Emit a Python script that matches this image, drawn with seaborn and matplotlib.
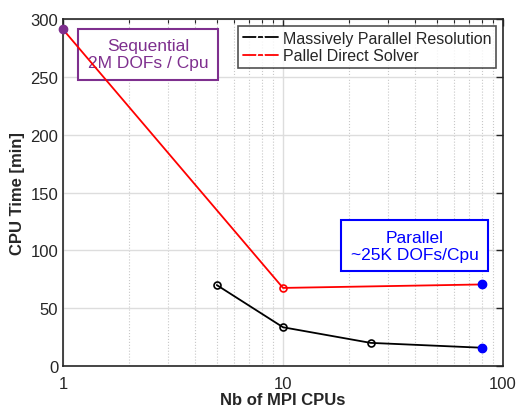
import matplotlib
matplotlib.use("Agg")
from matplotlib import pyplot as plt
import numpy as np
import pandas as pd
import seaborn as sns

# values
mpr_cpus = [5, 10, 25, 80]
mpr_time = [70, 33.5, 20, 15.8]
pds_cpus = [1, 10, 80]
pds_time = [291, 67.5, 70.5]

seq_point = (1, 291)
par_points_x = [80, 80]
par_points_y = [70.5, 15.8]

sns.set_theme(style="white")
plt.rcParams['font.family'] = ['Liberation Sans', 'DejaVu Sans']

df = pd.concat([
    pd.DataFrame({'cpus': mpr_cpus, 'time': mpr_time, 'series': 'Massively Parallel Resolution'}),
    pd.DataFrame({'cpus': pds_cpus, 'time': pds_time, 'series': 'Pallel Direct Solver'}),
])

fig = plt.figure(figsize=(5.16, 4.10), dpi=100)
ax = fig.add_axes([63/516, 1 - 367/410, 440/516, 347/410])

sns.lineplot(data=df, x='cpus', y='time', hue='series',
             palette={'Massively Parallel Resolution': 'black', 'Pallel Direct Solver': 'red'},
             marker='o', markersize=5, markerfacecolor='none', markeredgewidth=1.2,
             linewidth=1.3, ax=ax, sort=False, zorder=3)
for line, col in zip(ax.get_lines()[:2], ['black', 'red']):
    line.set_markeredgecolor(col)

ax.plot(*seq_point, 'o', color='#7E2F8E', markersize=6, zorder=5, clip_on=False)
ax.plot(par_points_x, par_points_y, 'o', color='blue', markersize=6, linestyle='none', zorder=5)

ax.set_xscale('log')
ax.set_xlim(1, 100)
ax.set_ylim(0, 300)
ax.set_yticks([0, 50, 100, 150, 200, 250, 300])
ax.set_xticks([1, 10, 100])
ax.set_xticklabels(['1', '10', '100'])

ax.grid(True, which='major', color='#dddddd', linewidth=1.0, linestyle='-')
ax.grid(True, which='minor', axis='x', color='#c8c8c8', linewidth=0.8, linestyle=':')
ax.set_axisbelow(True)

for s in ax.spines.values():
    s.set_color('#262626')
    s.set_linewidth(1.2)
ax.tick_params(which='both', direction='in', top=True, right=True, colors='#262626',
               labelsize=12, labelcolor='#262626')
ax.tick_params(which='major', length=5, width=1.0)
ax.tick_params(which='minor', length=3, width=0.8)
ax.tick_params(axis='x', pad=7)

ax.set_xlabel('Nb of MPI CPUs', fontsize=12, fontweight='bold', color='#262626', labelpad=1)
ax.set_ylabel('CPU Time [min]', fontsize=12, fontweight='bold', color='#262626', labelpad=4)

leg = ax.legend(loc='upper right', fontsize=11.5, frameon=True, fancybox=False,
                borderpad=0.3, handlelength=2.2, handletextpad=0.3, labelspacing=0.15,
                borderaxespad=0.45)
leg.get_frame().set_edgecolor('#262626')
leg.get_frame().set_linewidth(1.2)
leg.set_zorder(6)

ax.text(2.43, 269.5, 'Sequential\n2M DOFs / Cpu', color='#7E2F8E', fontsize=12.5,
        ha='center', va='center', linespacing=1.15, zorder=2,
        bbox=dict(boxstyle='square,pad=0.55', fc='white', ec='#7E2F8E', lw=1.5))
ax.text(39.8, 104, 'Parallel\n~25K DOFs/Cpu', color='blue', fontsize=12.5,
        ha='center', va='center', linespacing=1.15, zorder=2,
        bbox=dict(boxstyle='square,pad=0.55', fc='white', ec='blue', lw=1.5))

fig.savefig('out.png', dpi=100)
